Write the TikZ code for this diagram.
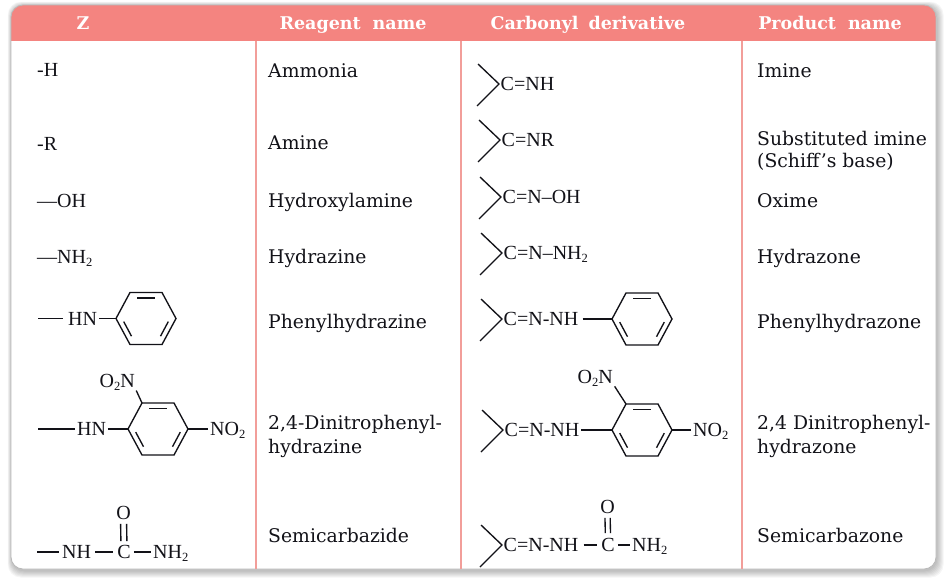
\documentclass[tikz,border=0pt]{standalone}
\usepackage{fontspec}
\setmainfont{Liberation Serif}
\newfontfamily\namefont{DejaVu Serif}
\usetikzlibrary{calc}
\definecolor{headpink}{RGB}{244,132,128}
\definecolor{linepink}{RGB}{242,158,154}
\definecolor{ink}{RGB}{18,18,24}
\newcommand{\chsub}[1]{\raisebox{-0.35ex}{\fontsize{12.5}{12.5}\selectfont #1}}
\tikzset{
  chem/.style={font=\fontsize{20}{23}\selectfont, text=ink, inner sep=0pt, text height=13.2pt, text depth=0pt},
  zt/.style={font=\fontsize{20}{23}\selectfont, text=ink, inner sep=0pt, anchor=west, text height=13.2pt, text depth=0pt},
  nm/.style={font=\namefont\fontsize{18.8}{22}\selectfont, text=ink, inner sep=0pt, anchor=west, text height=13.7pt, text depth=0pt},
  hd/.style={font=\namefont\bfseries\fontsize{17.5}{20}\selectfont, text=white, inner sep=0pt, text height=12.8pt, text depth=0pt},
  bond/.style={draw=ink, line width=1.35pt},
  colline/.style={draw=linepink, line width=1.1pt},
  frame/.style={draw=gray!55, line width=0.8pt, rounded corners=12pt}
}
\newcommand{\benzring}[3]{%
  \begin{scope}[shift={(#2,#3)}]
    \coordinate (#1-L) at (-30,0);
    \coordinate (#1-UL) at (-16,-26);
    \coordinate (#1-UR) at (16,-26);
    \coordinate (#1-R) at (30,0);
    \coordinate (#1-LR) at (16,26);
    \coordinate (#1-LL) at (-16,26);
    \draw[bond, line join=miter] (#1-L) -- (#1-UL) -- (#1-UR) -- (#1-R) -- (#1-LR) -- (#1-LL) -- cycle;
    \draw[bond] (-9,-20.6) -- (9,-20.6);
    \draw[bond] (22.3,3.1) -- (14.5,17.7);
    \draw[bond] (-22.3,3.1) -- (-14.5,17.7);
  \end{scope}}
\newcommand{\ketarm}[3]{%
  \coordinate (#1-t) at ({#2-21},{#3-20});
  \coordinate (#1-v) at (#2,#3);
  \coordinate (#1-b) at ({#2-22},{#3+22});
  \draw[bond, line join=miter] (#1-t) -- (#1-v) -- (#1-b);}
\begin{document}
\begin{tikzpicture}[x=1pt,y=-1pt]
\useasboundingbox (0,0) rectangle (944,581);
% shadow
\foreach \i in {1,...,7}{
  \fill[black, opacity=0.04, rounded corners=13pt] ({11-0.6*\i+1},{5-0.6*\i+1}) rectangle ({936+\i+0.5},{569+\i+1.5});
}
\fill[white, rounded corners=12pt] (11,5) rectangle (936,569);
\begin{scope}
  \clip[rounded corners=12pt] (11,5) rectangle (936,569);
  \fill[headpink] (11,5) rectangle (936,41);
\end{scope}
\draw[frame] (11,5) rectangle (936,569);
% column lines
\draw[colline] (256,41) -- (256,569);
\draw[colline] (461,41) -- (461,569);
\draw[colline] (742,41) -- (742,569);
% header
\node[hd] (h1) at (83,23) {Z};
\node[hd] (h2) at (353,23) {Reagent\hspace{12pt}name};
\node[hd] (h3) at (588,23) {Carbonyl\hspace{10pt}derivative};
\node[hd] (h4) at (830,23) {Product\hspace{12pt}name};
% Z column
\node[zt] (z1) at (37,70) {-H};
\node[zt] (z2) at (37,144) {-R};
\node[zt] (z3) at (37,200.5) {—OH};
\node[zt] (z4) at (37,257) {—NH\chsub{2}};
% row 5 Z
\coordinate (z5a) at (38,318.5);
\node[chem,anchor=west] (hn5) at (68,318.5) {HN};
\benzring{r5z}{146}{318.5}
\draw[bond,shorten >=5pt] (z5a) -- (hn5.west);
\draw[bond,shorten <=2pt] (hn5.east) -- (r5z-L);
% row 6 Z
\coordinate (z6a) at (38,429);
\node[chem,anchor=west] (hn6) at (77,429) {HN};
\benzring{r6z}{158}{429}
\draw[bond,shorten >=2pt] (z6a) -- (hn6.west);
\draw[bond,shorten <=1.5pt] (hn6.east) -- (r6z-L);
\node[chem,anchor=east] (o2n6) at (135,381) {O\chsub{2}N};
\draw[bond,shorten >=3pt] (r6z-UL) -- (o2n6.south east);
\node[chem,anchor=west] (no26) at (210,429) {NO\chsub{2}};
\draw[bond,shorten >=2pt] (r6z-R) -- (no26.west);
% row 7 Z
\coordinate (z7a) at (37,552);
\node[chem,anchor=west] (nh7) at (62,552) {NH};
\node[chem] (c7) at (124,552) {C};
\node[chem,anchor=west] (nhh7) at (153,552) {NH\chsub{2}};
\node[chem] (o7) at (123.5,513) {O};
\draw[bond,shorten >=3pt] (z7a) -- (nh7.west);
\draw[bond,shorten <=4pt,shorten >=4pt] (nh7.east) -- (c7.west);
\draw[bond,shorten <=3pt,shorten >=2pt] (c7.east) -- (nhh7.west);
\draw[bond,shorten <=4pt,shorten >=4pt] ([xshift=-3pt]c7.north) -- ([xshift=-3pt]o7.south);
\draw[bond,shorten <=4pt,shorten >=4pt] ([xshift=3pt]c7.north) -- ([xshift=3pt]o7.south);
% reagent names
\node[nm] (n1) at (268,71) {Ammonia};
\node[nm] (n2) at (268,143) {Amine};
\node[nm] (n3) at (268,201) {Hydroxylamine};
\node[nm] (n4) at (268,257) {Hydrazine};
\node[nm] (n5) at (268,322) {Phenylhydrazine};
\node[nm] (n6a) at (268,423) {2,4-Dinitrophenyl-};
\node[nm] (n6b) at (268,447) {hydrazine};
\node[nm] (n7) at (268,536) {Semicarbazide};
% carbonyl derivatives
\ketarm{k1}{499}{84}
\node[chem,anchor=west] (d1) at (500.5,84) {C=NH};
\ketarm{k2}{500}{140}
\node[chem,anchor=west] (d2) at (501.5,140) {C=NR};
\ketarm{k3}{501}{197}
\node[chem,anchor=west] (d3) at (502.5,197) {C=N–OH};
\ketarm{k4}{502}{253}
\node[chem,anchor=west] (d4) at (503.5,253) {C=N–NH\chsub{2}};
\ketarm{k5}{502}{319}
\node[chem,anchor=west] (d5) at (503.5,319) {C=N-NH};
\benzring{r5d}{642}{319}
\draw[bond,shorten <=4pt] (d5.east) -- (r5d-L);
\ketarm{k6}{503}{430}
\node[chem,anchor=west] (d6) at (504.5,430) {C=N-NH};
\benzring{r6d}{642}{430}
\draw[bond,shorten <=1.5pt] (d6.east) -- (r6d-L);
\node[chem,anchor=east] (o2n6d) at (613,377) {O\chsub{2}N};
\draw[bond,shorten >=3pt] (r6d-UL) -- (o2n6d.south east);
\node[chem,anchor=west] (no26d) at (693,430) {NO\chsub{2}};
\draw[bond,shorten >=2pt] (r6d-R) -- (no26d.west);
\ketarm{k7}{502}{545}
\node[chem,anchor=west] (d7) at (503.5,545) {C=N-NH};
\node[chem] (c7d) at (608,545) {C};
\node[chem] (o7d) at (607.5,507) {O};
\node[chem,anchor=west] (nh27d) at (632,545) {NH\chsub{2}};
\draw[bond,shorten <=5pt,shorten >=4pt] (d7.east) -- (c7d.west);
\draw[bond,shorten <=3pt,shorten >=2pt] (c7d.east) -- (nh27d.west);
\draw[bond,shorten <=5pt,shorten >=4pt] ([xshift=-2.6pt]c7d.north) -- ([xshift=-2.6pt]o7d.south);
\draw[bond,shorten <=5pt,shorten >=4pt] ([xshift=2.6pt]c7d.north) -- ([xshift=2.6pt]o7d.south);
% product names
\node[nm] (p1) at (757,71) {Imine};
\node[nm] (p2a) at (757,139) {Substituted imine};
\node[nm] (p2b) at (757,161) {(Schiff’s base)};
\node[nm] (p3) at (757,201) {Oxime};
\node[nm] (p4) at (757,257) {Hydrazone};
\node[nm] (p5) at (757,322) {Phenylhydrazone};
\node[nm] (p6a) at (757,423) {2,4 Dinitrophenyl-};
\node[nm] (p6b) at (757,447) {hydrazone};
\node[nm] (p7) at (757,536) {Semicarbazone};
\end{tikzpicture}
\end{document}
